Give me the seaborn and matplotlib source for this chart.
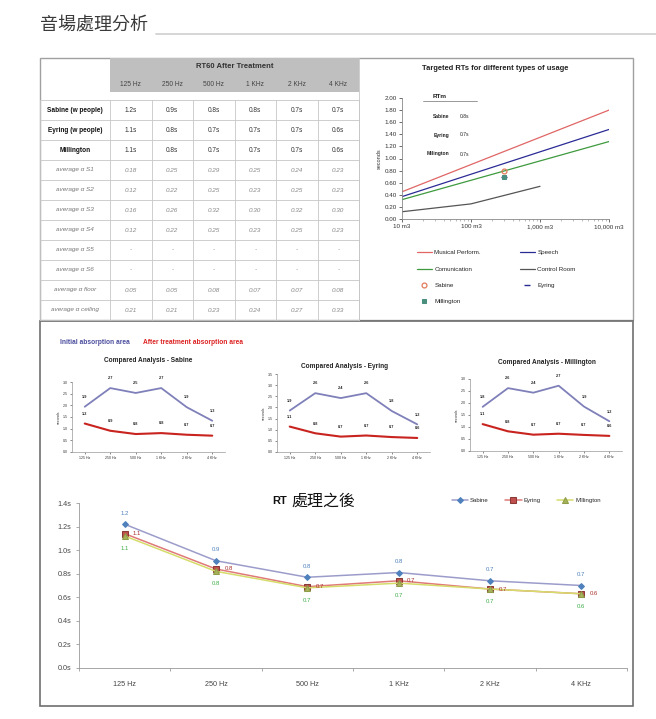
import matplotlib
matplotlib.use("Agg")
import numpy as np
import pandas as pd
import matplotlib.pyplot as plt
from matplotlib.patches import Rectangle
from matplotlib.ticker import NullFormatter
import seaborn as sns

# ---------------- data ----------------
freqs = ["125 Hz", "250 Hz", "500 Hz", "1 KHz", "2 KHz", "4 KHz"]

# table: RT60 after treatment
row_labels = ["Sabine (w people)", "Eyring (w people)", "Millington",
              "average α S1", "average α S2", "average α S3", "average α S4",
              "average α S5", "average α S6", "average α floor", "average α ceiling"]
rt_sabine = ["1.2s", "0.9s", "0.8s", "0.8s", "0.7s", "0.7s"]
rt_eyring = ["1.1s", "0.8s", "0.7s", "0.7s", "0.7s", "0.6s"]
rt_millington = ["1.1s", "0.8s", "0.7s", "0.7s", "0.7s", "0.6s"]
alpha_s1 = ["0.18", "0.25", "0.29", "0.25", "0.24", "0.23"]
alpha_s2 = ["0.12", "0.22", "0.25", "0.23", "0.25", "0.23"]
alpha_s3 = ["0.16", "0.26", "0.32", "0.30", "0.32", "0.30"]
alpha_s4 = ["0.12", "0.22", "0.25", "0.23", "0.25", "0.23"]
alpha_s5 = ["-", "-", "-", "-", "-", "-"]
alpha_s6 = ["-", "-", "-", "-", "-", "-"]
alpha_floor = ["0.05", "0.05", "0.08", "0.07", "0.07", "0.08"]
alpha_ceiling = ["0.21", "0.21", "0.23", "0.24", "0.27", "0.33"]

# targeted RTs chart
volumes = [10, 100, 1000, 10000]
rt_musical = [0.45, 0.90, 1.35, 1.80]
rt_speech = [0.37, 0.74, 1.11, 1.48]
rt_communication = [0.32, 0.64, 0.96, 1.28]
control_volumes = [10, 100, 1000]
rt_control_room = [0.12, 0.25, 0.54]
room_volume = 300
rtm_methods = ["Sabine", "Eyring", "Milington"]
rtm_values = [0.8, 0.7, 0.7]

# compared analysis: initial vs after treatment
sabine_initial = [1.94, 2.74, 2.53, 2.74, 1.92, 1.34]
eyring_initial = [1.86, 2.64, 2.42, 2.64, 1.84, 1.24]
millington_initial = [1.84, 2.62, 2.43, 2.72, 1.85, 1.24]
sabine_after = [1.22, 0.91, 0.77, 0.81, 0.74, 0.70]
eyring_after = [1.14, 0.84, 0.69, 0.74, 0.67, 0.63]
millington_after = [1.12, 0.82, 0.68, 0.72, 0.67, 0.63]

# ---------------- setup ----------------
sns.set_theme(style="white")
plt.rcParams["font.family"] = ["Liberation Sans", "Noto Sans CJK TC", "DejaVu Sans"]

W, H = 656, 719


def rect(x0, y0, x1, y1):
    # pixel box (top-left origin) -> figure fraction
    return [x0 / W, 1 - y1 / H, (x1 - x0) / W, (y1 - y0) / H]


fig = plt.figure(figsize=(W / 100, H / 100), dpi=100)
bg = fig.add_axes([0, 0, 1, 1], zorder=0)
bg.set_xlim(0, W)
bg.set_ylim(H, 0)
bg.axis("off")

# page title
bg.text(40, 25, "音場處理分析", fontsize=13, color="#3a3a3a", va="center", ha="left",
        family=["Noto Sans CJK TC"])
bg.plot([156, 656], [34, 34], color="#d2d2d2", lw=1.3)

# panel frames
bg.add_patch(Rectangle((40, 58), 593, 262, fill=False, ec="#a0a0a0", lw=1))
bg.add_patch(Rectangle((40, 321), 593, 385, fill=False, ec="#707070", lw=1.2))

# ---------------- table ----------------
col_x = np.linspace(110, 359, 7)
col_c = (col_x[:-1] + col_x[1:]) / 2
bg.add_patch(Rectangle((110, 58), 249, 34, color="#bfbfbf", lw=0))
bg.text((110 + 359) / 2, 67, "RT60 After Treatment", fontsize=5.5, weight="bold",
        color="#333333", ha="center", va="center")
for cx, f in zip(col_c, freqs):
    bg.text(cx, 84, f, fontsize=4.8, color="#444444", ha="center", va="center")

table_rows = [rt_sabine, rt_eyring, rt_millington, alpha_s1, alpha_s2, alpha_s3,
              alpha_s4, alpha_s5, alpha_s6, alpha_floor, alpha_ceiling]
row_top = 100
row_h = 20
n_rows = len(table_rows)
for i in range(n_rows + 1):
    y = row_top + i * row_h
    bg.plot([40, 359], [y, y], color="#c6c6c6", lw=0.6)
for x in [40] + list(col_x):
    bg.plot([x, x], [row_top, row_top + n_rows * row_h], color="#c6c6c6", lw=0.6)
bg.plot([359, 359], [58, 320], color="#c6c6c6", lw=0.6)

for i, (lab, vals) in enumerate(zip(row_labels, table_rows)):
    yc = row_top + i * row_h + row_h / 2
    if i < 3:
        bg.text(75, yc, lab, fontsize=4.7, weight="bold", color="#111111",
                ha="center", va="center")
        for cx, v in zip(col_c, vals):
            bg.text(cx, yc, v, fontsize=4.7, color="#333333", ha="center", va="center")
    else:
        bg.text(75, yc, lab, fontsize=4.6, style="italic", color="#777777",
                ha="center", va="center")
        for cx, v in zip(col_c, vals):
            bg.text(cx, yc, v, fontsize=4.6, style="italic", color="#888888",
                    ha="center", va="center")

# ---------------- targeted RTs chart ----------------
bg.text(495, 69, "Targeted RTs for different types of usage", fontsize=5.4,
        weight="bold", color="#222222", ha="center", va="center")
ax_rt = fig.add_axes(rect(402, 98, 609, 219), zorder=1)
ax_rt.patch.set_alpha(0)
sns.lineplot(x=volumes, y=rt_musical, color="#e06666", lw=0.9, ax=ax_rt,
             label="Musical Perform.")
sns.lineplot(x=volumes, y=rt_speech, color="#2b2b96", lw=0.9, ax=ax_rt, label="Speech")
sns.lineplot(x=volumes, y=rt_communication, color="#3e9a3e", lw=0.9, ax=ax_rt,
             label="Comunication")
sns.lineplot(x=control_volumes, y=rt_control_room, color="#555555", lw=0.9, ax=ax_rt,
             label="Control Room")
sns.lineplot(x=[room_volume], y=[rtm_values[0]], marker="o", linestyle="none",
             markerfacecolor="none", markeredgecolor="#e07a5a", markersize=3.5,
             markeredgewidth=0.9, ax=ax_rt, label="Sabine")
sns.lineplot(x=[room_volume], y=[rtm_values[1]], marker="_", linestyle="none",
             color="#2b2b96", markeredgecolor="#2b2b96", markersize=4,
             markeredgewidth=1, ax=ax_rt, label="Eyring")
sns.lineplot(x=[room_volume], y=[rtm_values[2]], marker="s", linestyle="none",
             color="#4a8f7e", markeredgecolor="#4a8f7e", markersize=3.2,
             ax=ax_rt, label="Millington")
ax_rt.set_xscale("log")
ax_rt.set_xlim(10, 10000)
ax_rt.set_ylim(0, 2.0)
ax_rt.set_xticks(volumes)
ax_rt.set_xticklabels(["10 m3", "100 m3", "1,000 m3", "10,000 m3"])
ax_rt.xaxis.set_minor_formatter(NullFormatter())
ax_rt.set_yticks(np.arange(0, 2.01, 0.2))
ax_rt.set_yticklabels([f"{t:.2f}" for t in np.arange(0, 2.01, 0.2)])
ax_rt.tick_params(labelsize=4.5, colors="#333333", length=2, width=0.5, pad=1.5,
                  direction="out", left=True, bottom=True)
ax_rt.tick_params(which="minor", length=1.2, width=0.4, bottom=True, color="#888888")
for s in ["top", "right"]:
    ax_rt.spines[s].set_visible(False)
for s in ["left", "bottom"]:
    ax_rt.spines[s].set_color("#888888")
    ax_rt.spines[s].set_linewidth(0.6)
ax_rt.set_xlabel("")
ax_rt.set_ylabel("seconds", fontsize=4, color="#333333", labelpad=2)

handles, labels = ax_rt.get_legend_handles_labels()
order = [0, 2, 4, 6, 1, 3, 5]
ax_rt.legend([handles[i] for i in order], [labels[i] for i in order], ncol=2,
             loc="upper left", bbox_to_anchor=(417 / W, 1 - 250 / H),
             bbox_transform=fig.transFigure, frameon=False, fontsize=4.5,
             handlelength=2.4, handletextpad=0.4, columnspacing=6.2,
             labelspacing=1.75, borderpad=0, borderaxespad=0)

# RTm inset text
bg.text(440, 97, "RTm", fontsize=4.6, weight="bold", color="#222222",
        ha="center", va="center")
bg.plot([423, 477], [100.5, 100.5], color="#888888", lw=0.6)
for j, (m, v) in enumerate(zip(rtm_methods, rtm_values)):
    yy = 116 + j * 19
    bg.text(449, yy, m, fontsize=3.6, weight="bold", color="#222222",
            ha="right", va="center")
    bg.text(460, yy, f"{v:.1f}s", fontsize=3.6, color="#222222", ha="left", va="center")

# ---------------- compared analysis ----------------
bg.text(60, 343, "Initial absorption area", fontsize=4.8, weight="bold",
        color="#4b4d9e", ha="left", va="center")
bg.text(143, 343, "After treatment absorption area", fontsize=4.8, weight="bold",
        color="#dd2222", ha="left", va="center")

pos = list(range(len(freqs)))
small_specs = [
    ("Compared Analysis - Sabine", sabine_initial, sabine_after,
     (72, 382, 225, 452), 3.0, (148, 361)),
    ("Compared Analysis - Eyring", eyring_initial, eyring_after,
     (277, 374, 430, 452), 3.5, (345, 367)),
    ("Compared Analysis - Millington", millington_initial, millington_after,
     (470, 379, 622, 451), 3.0, (547, 363)),
]
for title, initial, after, box, top, tpos in small_specs:
    bg.text(tpos[0], tpos[1], title, fontsize=4.7, weight="bold", color="#222222",
            ha="center", va="center")
    ax = fig.add_axes(rect(*box), zorder=1)
    ax.patch.set_alpha(0)
    sns.lineplot(x=pos, y=initial, color="#7f80b9", lw=1.3, ax=ax)
    sns.lineplot(x=pos, y=after, color="#c8231e", lw=1.5, ax=ax)
    for xx, v in zip(pos, initial):
        ax.annotate(f"{v:.1f}", (xx, v), xytext=(0, 7), textcoords="offset points",
                    ha="center", va="center", fontsize=2.8, color="#222222",
                    weight="bold")
    for xx, v in zip(pos, after):
        ax.annotate(f"{v:.1f}", (xx, v), xytext=(0, 7), textcoords="offset points",
                    ha="center", va="center", fontsize=2.8, color="#222222",
                    weight="bold")
    ax.set_xlim(-0.5, 5.5)
    ax.set_ylim(0, top)
    yt = np.arange(0, top + 0.01, 0.5)
    ax.set_yticks(yt)
    ax.set_yticklabels([f"{t:.1f}" for t in yt])
    ax.set_xticks(pos)
    ax.set_xticklabels(freqs)
    ax.tick_params(labelsize=2.6, colors="#333333", length=1.2, width=0.4, pad=1.5,
                   left=True, bottom=True)
    for s in ["top", "right"]:
        ax.spines[s].set_visible(False)
    for s in ["left", "bottom"]:
        ax.spines[s].set_color("#999999")
        ax.spines[s].set_linewidth(0.5)
    ax.set_ylabel("seconds", fontsize=2.6, color="#333333", labelpad=2)

# ---------------- RT after treatment ----------------
bg.text(272, 501, "RT", fontsize=8, weight="bold", color="#111111",
        ha="left", va="center")
bg.text(291, 501, "處理之後", fontsize=11.5, color="#111111", ha="left", va="center",
        family=["Noto Sans CJK TC"])

ax_b = fig.add_axes(rect(79, 503, 627, 668), zorder=1)
ax_b.patch.set_alpha(0)
sns.lineplot(x=pos, y=sabine_after, color="#9c9ccb", lw=1.1, marker="D",
             markersize=3, markerfacecolor="#4f81bd", markeredgecolor="#4f81bd",
             ax=ax_b, label="Sabine")
sns.lineplot(x=pos, y=eyring_after, color="#e07a78", lw=1.1, marker="s",
             markersize=4, markerfacecolor="#c0504d", markeredgecolor="#8b3a38",
             ax=ax_b, label="Eyring")
sns.lineplot(x=pos, y=millington_after, color="#d6dc6a", lw=1.1, marker="^",
             markersize=3.8, markerfacecolor="#a6b35a", markeredgecolor="#8f9c48",
             ax=ax_b, label="Millington")
for xx, v in zip(pos, sabine_after):
    ax_b.annotate(f"{v:.1f}", (xx, v), xytext=(0, 8), textcoords="offset points",
                  ha="center", va="center", fontsize=4.3, color="#4f81bd")
for xx, v in zip(pos, eyring_after):
    ax_b.annotate(f"{v:.1f}", (xx, v), xytext=(6, 0), textcoords="offset points",
                  ha="left", va="center", fontsize=4.3, color="#a8302c")
for xx, v in zip(pos, millington_after):
    ax_b.annotate(f"{v:.1f}", (xx, v), xytext=(0, -9), textcoords="offset points",
                  ha="center", va="center", fontsize=4.3, color="#3fae49")
ax_b.set_xlim(-0.5, 5.5)
ax_b.set_ylim(0, 1.4)
yt = np.arange(0, 1.41, 0.2)
ax_b.set_yticks(yt)
ax_b.set_yticklabels([f"{t:.1f}s" for t in yt])
ax_b.set_xticks(pos)
ax_b.set_xticklabels(freqs)
ax_b.set_xticks(np.arange(-0.5, 5.6, 1), minor=True)
ax_b.tick_params(axis="x", which="major", length=0, pad=9)
ax_b.tick_params(axis="x", which="minor", length=2.5, width=0.5, color="#888888",
                 bottom=True)
ax_b.tick_params(axis="y", length=2.5, width=0.5, color="#888888", left=True, pad=3)
ax_b.tick_params(labelsize=5.2, colors="#444444")
ax_b.tick_params(axis="both", which="both", color="#888888")
for s in ["top", "right"]:
    ax_b.spines[s].set_visible(False)
for s in ["left", "bottom"]:
    ax_b.spines[s].set_color("#999999")
    ax_b.spines[s].set_linewidth(0.6)
ax_b.set_xlabel("")
ax_b.set_ylabel("")
ax_b.legend(ncol=3, loc="upper left", bbox_to_anchor=(452 / W, 1 - 498 / H),
            bbox_transform=fig.transFigure, frameon=False, fontsize=4.3,
            handlelength=2.7, handletextpad=0.3, columnspacing=2.8,
            borderpad=0, borderaxespad=0)

fig.savefig("out.png", dpi=100)
